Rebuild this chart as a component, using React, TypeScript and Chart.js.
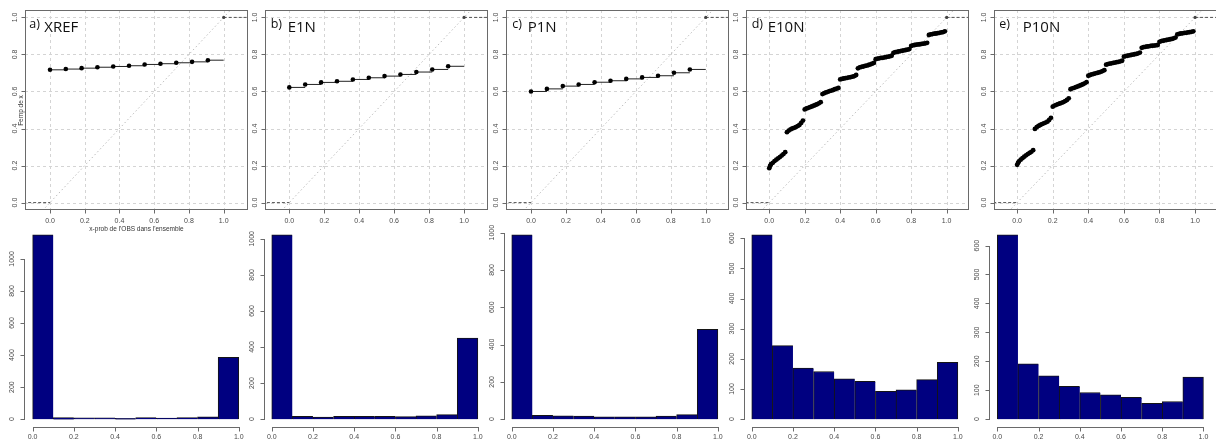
import React, { useEffect, useRef } from 'react';
import { Chart, registerables } from 'chart.js';
Chart.register(...registerables);

// ---------------- data ----------------
const panelLetters = ['a)', 'b)', 'c)', 'd)', 'e)'];
const panelNames = ['XREF', 'E1N', 'P1N', 'E10N', 'P10N'];

// ECDF abscissae (x-prob) for the 1-member panels
const sparseX = [0, 0.091, 0.182, 0.273, 0.364, 0.455, 0.545, 0.636, 0.727, 0.818, 0.909, 1.0];
const xrefEcdf = [0.717, 0.721, 0.726, 0.731, 0.735, 0.739, 0.746, 0.75, 0.755, 0.76, 0.769, 1.0];
const e1nEcdf = [0.622, 0.638, 0.649, 0.655, 0.665, 0.674, 0.683, 0.692, 0.705, 0.719, 0.736, 1.0];
const p1nEcdf = [0.6, 0.614, 0.629, 0.638, 0.65, 0.658, 0.668, 0.676, 0.685, 0.701, 0.719, 1.0];

// ECDF abscissae for the 10-member panels
const denseX = [
  0, 0.005, 0.01, 0.02, 0.03, 0.04, 0.05, 0.06, 0.07, 0.08, 0.09,
  0.1, 0.11, 0.12, 0.13, 0.14, 0.15, 0.16, 0.17, 0.18, 0.19,
  0.2, 0.21, 0.22, 0.23, 0.24, 0.25, 0.26, 0.27, 0.28, 0.29,
  0.3, 0.31, 0.32, 0.33, 0.34, 0.35, 0.36, 0.37, 0.38, 0.39,
  0.4, 0.41, 0.42, 0.43, 0.44, 0.45, 0.46, 0.47, 0.48, 0.49,
  0.5, 0.51, 0.52, 0.53, 0.54, 0.55, 0.56, 0.57, 0.58, 0.59,
  0.6, 0.61, 0.62, 0.63, 0.64, 0.65, 0.66, 0.67, 0.68, 0.69,
  0.7, 0.71, 0.72, 0.73, 0.74, 0.75, 0.76, 0.77, 0.78, 0.79,
  0.8, 0.81, 0.82, 0.83, 0.84, 0.85, 0.86, 0.87, 0.88, 0.89,
  0.9, 0.91, 0.92, 0.93, 0.94, 0.95, 0.96, 0.97, 0.98, 0.99,
  1.0,
];
const e10nEcdf = [
  0.186, 0.198, 0.207, 0.215, 0.224, 0.232, 0.239, 0.246, 0.254, 0.262, 0.272,
  0.38, 0.389, 0.395, 0.4, 0.404, 0.408, 0.413, 0.419, 0.43, 0.443,
  0.503, 0.508, 0.512, 0.515, 0.519, 0.523, 0.527, 0.531, 0.536, 0.542,
  0.586, 0.591, 0.595, 0.598, 0.602, 0.605, 0.608, 0.612, 0.615, 0.619,
  0.665, 0.668, 0.67, 0.672, 0.674, 0.676, 0.678, 0.68, 0.683, 0.689,
  0.725, 0.73, 0.733, 0.735, 0.738, 0.74, 0.743, 0.746, 0.75, 0.754,
  0.774, 0.777, 0.779, 0.781, 0.782, 0.784, 0.786, 0.788, 0.79, 0.793,
  0.808, 0.812, 0.814, 0.816, 0.818, 0.82, 0.822, 0.824, 0.826, 0.829,
  0.846, 0.849, 0.851, 0.853, 0.854, 0.855, 0.857, 0.858, 0.86, 0.863,
  0.905, 0.908, 0.91, 0.912, 0.913, 0.915, 0.917, 0.919, 0.921, 0.925,
  1.0,
];
const p10nEcdf = [
  0.204, 0.214, 0.222, 0.232, 0.24, 0.248, 0.255, 0.262, 0.268, 0.274, 0.283,
  0.398, 0.407, 0.414, 0.419, 0.424, 0.428, 0.432, 0.437, 0.446, 0.458,
  0.518, 0.524, 0.528, 0.532, 0.535, 0.539, 0.543, 0.548, 0.554, 0.563,
  0.612, 0.617, 0.62, 0.623, 0.627, 0.631, 0.635, 0.639, 0.644, 0.65,
  0.685, 0.689, 0.692, 0.695, 0.698, 0.7, 0.703, 0.706, 0.71, 0.715,
  0.745, 0.748, 0.75, 0.752, 0.754, 0.756, 0.758, 0.76, 0.763, 0.766,
  0.788, 0.791, 0.793, 0.795, 0.797, 0.799, 0.801, 0.803, 0.806, 0.81,
  0.836, 0.839, 0.841, 0.843, 0.844, 0.846, 0.847, 0.848, 0.849, 0.851,
  0.868, 0.872, 0.874, 0.876, 0.878, 0.88, 0.882, 0.884, 0.887, 0.891,
  0.908, 0.911, 0.913, 0.914, 0.916, 0.917, 0.919, 0.92, 0.922, 0.925,
  1.0,
];

// histogram bins and counts
const binEdges = [0, 0.1, 0.2, 0.3, 0.4, 0.5, 0.6, 0.7, 0.8, 0.9, 1.0];
const xrefCounts = [1150, 10, 8, 8, 5, 9, 7, 9, 14, 385];
const e1nCounts = [1022, 15, 12, 15, 15, 15, 14, 18, 25, 450];
const p1nCounts = [988, 20, 18, 17, 12, 13, 12, 17, 24, 482];
const e10nCounts = [611, 244, 169, 158, 134, 125, 92, 97, 131, 188];
const p10nCounts = [637, 191, 150, 113, 92, 84, 75, 55, 61, 145];

// tick values and labels
const probTicks = [0, 0.2, 0.4, 0.6, 0.8, 1.0];
const probTickLabels = ['0.0', '0.2', '0.4', '0.6', '0.8', '1.0'];
const countTicks1000 = [0, 200, 400, 600, 800, 1000];
const countLabels1000 = ['0', '200', '400', '600', '800', '1000'];
const countTicks600 = [0, 100, 200, 300, 400, 500, 600];
const countLabels600 = ['0', '100', '200', '300', '400', '500', '600'];

const yTitleText = 'Femp de x';
const xTitleText = "x-prob de l'OBS dans l'ensemble";

const ecdfXs = [sparseX, sparseX, sparseX, denseX, denseX];
const ecdfYs = [xrefEcdf, e1nEcdf, p1nEcdf, e10nEcdf, p10nEcdf];
const histCounts = [xrefCounts, e1nCounts, p1nCounts, e10nCounts, p10nCounts];
const histYTicks = [countTicks1000, countTicks1000, countTicks1000, countTicks600, countTicks600];
const histYLabels = [countLabels1000, countLabels1000, countLabels1000, countLabels600, countLabels600];

// ---------------- layout ----------------
const topBoxes = [
  { left: 25, right: 248, xmin: -0.144, xmax: 1.14, letterOff: 4.3, nameOff: 19.3 },
  { left: 265, right: 488, xmin: -0.139, xmax: 1.137, letterOff: 5.7, nameOff: 22.7 },
  { left: 506, right: 729, xmin: -0.143, xmax: 1.133, letterOff: 6.3, nameOff: 21.7 },
  { left: 746, right: 969, xmin: -0.131, xmax: 1.126, letterOff: 5.7, nameOff: 21.7 },
  { left: 994, right: 1220, xmin: -0.13, xmax: 1.14, letterOff: 5.3, nameOff: 28.7 },
];
const TOP_Y0 = 10, TOP_Y1 = 210, TOP_H = 236;
const histLefts = [24.4, 263.5, 503.5, 743.5, 989.1];
const HIST_W = 222.6, HIST_TOP = 227.5, HIST_BOTTOM = 426.5, HIST_CANVAS_TOP = 215, HIST_CANVAS_H = 228;

const TICK_FONT = '7px "Liberation Sans", Arial, sans-serif';

// ---------------- R-style axes plugin ----------------
const rAxes = {
  id: 'rAxes',
  beforeDatasetsDraw(chart: any, _args: any, o: any) {
    if (!o || !o.grid) return;
    const { ctx, chartArea: a } = chart;
    const xs = chart.scales.x, ys = chart.scales.y;
    ctx.save();
    ctx.strokeStyle = '#d4d4d4';
    ctx.lineWidth = 1;
    ctx.setLineDash([3, 3]);
    ctx.beginPath();
    o.xTicks.forEach((v: number) => {
      const p = Math.round(xs.getPixelForValue(v)) + 0.5;
      ctx.moveTo(p, a.top); ctx.lineTo(p, a.bottom);
    });
    o.yTicks.forEach((v: number) => {
      const p = Math.round(ys.getPixelForValue(v)) + 0.5;
      ctx.moveTo(a.left, p); ctx.lineTo(a.right, p);
    });
    ctx.stroke();
    ctx.restore();
  },
  afterDraw(chart: any, _args: any, o: any) {
    if (!o) return;
    const { ctx, chartArea: a } = chart;
    const xs = chart.scales.x, ys = chart.scales.y;
    ctx.save();
    ctx.setLineDash([]);
    ctx.strokeStyle = '#6a6a6a';
    ctx.lineWidth = 1;
    const L = Math.round(a.left), R = Math.round(a.right), T = Math.round(a.top), B = Math.round(a.bottom);
    let axisY: number, axisX: number;
    if (o.mode === 'ecdf') {
      ctx.strokeRect(L + 0.5, T + 0.5, R - L - 1, B - T - 1);
      axisY = B - 0.5;
      axisX = L + 0.5;
    } else {
      axisY = B + 0.5;
      axisX = L + 0.5;
      ctx.beginPath();
      ctx.moveTo(Math.round(xs.getPixelForValue(o.xTicks[0])), axisY);
      ctx.lineTo(Math.round(xs.getPixelForValue(o.xTicks[o.xTicks.length - 1])) + 1, axisY);
      ctx.moveTo(axisX, Math.round(ys.getPixelForValue(o.yTicks[0])) + 1);
      ctx.lineTo(axisX, Math.round(ys.getPixelForValue(o.yTicks[o.yTicks.length - 1])));
      ctx.stroke();
    }
    // ticks
    ctx.beginPath();
    o.xTicks.forEach((v: number) => {
      const p = Math.round(xs.getPixelForValue(v)) + 0.5;
      ctx.moveTo(p, axisY); ctx.lineTo(p, axisY + 4);
    });
    o.yTicks.forEach((v: number) => {
      const p = Math.round(ys.getPixelForValue(v)) + 0.5;
      ctx.moveTo(axisX, p); ctx.lineTo(axisX - 4, p);
    });
    ctx.stroke();
    // labels
    ctx.fillStyle = '#4a4a4a';
    ctx.font = TICK_FONT;
    ctx.textAlign = 'center';
    ctx.textBaseline = 'middle';
    o.xTicks.forEach((v: number, k: number) => {
      ctx.fillText(o.xLabels[k], xs.getPixelForValue(v), axisY + o.xGap);
    });
    o.yTicks.forEach((v: number, k: number) => {
      ctx.save();
      ctx.translate(axisX - o.yGap, ys.getPixelForValue(v));
      ctx.rotate(-Math.PI / 2);
      ctx.fillText(o.yLabels[k], 0, 0);
      ctx.restore();
    });
    // free texts
    (o.texts || []).forEach((t: any) => {
      ctx.save();
      ctx.font = t.font;
      ctx.fillStyle = t.color || '#111';
      ctx.textAlign = t.align || 'left';
      ctx.textBaseline = t.baseline || 'alphabetic';
      ctx.translate(t.x, t.y);
      if (t.rotate) ctx.rotate(t.rotate);
      ctx.fillText(t.text, 0, 0);
      ctx.restore();
    });
    ctx.restore();
  },
};

// ---------------- configs ----------------
function ecdfPanel(i: number) {
  const b = topBoxes[i];
  const canvasLeft = Math.floor(b.left - 25);
  const width = Math.ceil(b.right + 6) - canvasLeft;
  const padL = b.left - canvasLeft;
  const padR = width - (b.right - canvasLeft);
  const xsArr = ecdfXs[i];
  const ysArr = ecdfYs[i];
  const n = xsArr.length;
  const dense = i >= 3;

  const pts = xsArr.slice(0, n - 1).map((x, k) => ({ x, y: ysArr[k] }));
  const steps: any[] = [];
  for (let k = 0; k < n - 1; k++) {
    steps.push({ x: xsArr[k], y: ysArr[k] });
    steps.push({ x: xsArr[k + 1], y: ysArr[k] });
    steps.push({ x: xsArr[k + 1], y: null });
  }
  const last = { x: xsArr[n - 1], y: ysArr[n - 1] };

  const texts: any[] = [
    { text: panelLetters[i], x: b.left + b.letterOff - canvasLeft, y: 27.5, font: '12.5px "Open Sans", sans-serif', color: '#111' },
    { text: panelNames[i], x: b.left + b.nameOff - canvasLeft, y: 31.7, font: '15px "Open Sans", sans-serif', color: '#111' },
  ];
  if (i === 0) {
    texts.push({ text: yTitleText, x: 21, y: 110.5, font: '6.5px "Liberation Sans", Arial, sans-serif', color: '#333', align: 'center', baseline: 'middle', rotate: -Math.PI / 2 });
    texts.push({ text: xTitleText, x: (b.left + b.right) / 2 - canvasLeft, y: 229.5, font: '6.5px "Liberation Sans", Arial, sans-serif', color: '#333', align: 'center', baseline: 'middle' });
  }

  const config: any = {
    type: 'scatter',
    data: {
      datasets: [
        { data: pts, pointRadius: dense ? 2.4 : 2.3, pointBackgroundColor: '#000', pointBorderWidth: 0, showLine: false },
        { data: [last], pointRadius: 1.6, pointBackgroundColor: '#444', pointBorderWidth: 0, showLine: false },
        { data: steps, showLine: true, spanGaps: false, borderColor: '#222', borderWidth: 1, pointRadius: 0 },
        { data: [{ x: -0.5, y: 0 }, { x: 0, y: 0 }], showLine: true, borderColor: '#555', borderWidth: 1, borderDash: [3, 2], pointRadius: 0 },
        { data: [{ x: 1, y: 1 }, { x: 1.5, y: 1 }], showLine: true, borderColor: '#555', borderWidth: 1, borderDash: [3, 2], pointRadius: 0 },
        { data: [{ x: -0.5, y: -0.5 }, { x: 1.5, y: 1.5 }], showLine: true, borderColor: '#bdbdbd', borderWidth: 1, borderDash: [1.5, 2.5], pointRadius: 0 },
      ],
    },
    options: {
      animation: false,
      responsive: false,
      maintainAspectRatio: false,
      events: [],
      elements: { line: { tension: 0 } },
      layout: { padding: { left: padL, right: padR, top: TOP_Y0, bottom: TOP_H - TOP_Y1 } },
      scales: {
        x: { type: 'linear', min: b.xmin, max: b.xmax, display: false },
        y: { type: 'linear', min: -0.04, max: 1.04, display: false },
      },
      plugins: {
        legend: { display: false },
        tooltip: { enabled: false },
        rAxes: {
          mode: 'ecdf', grid: true,
          xTicks: probTicks, xLabels: probTickLabels,
          yTicks: probTicks, yLabels: probTickLabels,
          xGap: 12, yGap: 10.5, texts,
        },
      },
    },
    plugins: [rAxes],
  };
  return { left: canvasLeft, top: 0, width, height: TOP_H, config };
}

function histPanel(i: number) {
  const left = histLefts[i];
  const canvasLeft = Math.floor(left - 26);
  const width = Math.ceil(left + HIST_W + 4) - canvasLeft;
  const padL = left - canvasLeft;
  const padR = width - (left + HIST_W - canvasLeft);
  const counts = histCounts[i];
  const maxC = Math.max(...counts);
  const centers = binEdges.slice(0, -1).map((e, k) => (e + binEdges[k + 1]) / 2);
  const lastIdx = counts.length - 1;

  const config: any = {
    type: 'bar',
    data: {
      datasets: [
        {
          data: centers.map((c, k) => ({ x: c, y: counts[k] })),
          backgroundColor: '#000080',
          borderColor: '#141414',
          borderWidth: (ctx: any) => ({ top: 1, left: 1, bottom: 0, right: ctx.dataIndex === lastIdx ? 1 : 0 }),
          borderSkipped: false,
          barPercentage: 1,
          categoryPercentage: 1,
        },
      ],
    },
    options: {
      animation: false,
      responsive: false,
      maintainAspectRatio: false,
      events: [],
      layout: { padding: { left: padL, right: padR, top: HIST_TOP - HIST_CANVAS_TOP, bottom: HIST_CANVAS_TOP + HIST_CANVAS_H - HIST_BOTTOM } },
      scales: {
        x: { type: 'linear', min: -0.04, max: 1.04, offset: false, display: false },
        y: { type: 'linear', min: -0.04 * maxC, max: 1.04 * maxC, display: false },
      },
      plugins: {
        legend: { display: false },
        tooltip: { enabled: false },
        rAxes: {
          mode: 'hist', grid: false,
          xTicks: probTicks, xLabels: probTickLabels,
          yTicks: histYTicks[i], yLabels: histYLabels[i],
          xGap: 10, yGap: 12.5, texts: [],
        },
      },
    },
    plugins: [rAxes],
  };
  return { left: canvasLeft, top: HIST_CANVAS_TOP, width, height: HIST_CANVAS_H, config };
}

function ChartCanvas(props: { left: number; top: number; width: number; height: number; config: any }) {
  const ref = useRef<HTMLCanvasElement | null>(null);
  useEffect(() => {
    if (!ref.current) return;
    const chart = new Chart(ref.current, props.config);
    return () => chart.destroy();
  }, []);
  return (
    <canvas
      ref={ref}
      width={props.width}
      height={props.height}
      style={{ position: 'absolute', left: props.left, top: props.top, width: props.width, height: props.height }}
    />
  );
}

export default function App() {
  const panels = [0, 1, 2, 3, 4];
  const tops = panels.map(ecdfPanel);
  const hists = panels.map(histPanel);
  return (
    <div style={{ position: 'absolute', left: 0, top: 0, width: 1216, height: 443, overflow: 'hidden', background: '#fff' }}>
      {hists.map((p, k) => (
        <ChartCanvas key={'h' + k} {...p} />
      ))}
      {tops.map((p, k) => (
        <ChartCanvas key={'t' + k} {...p} />
      ))}
    </div>
  );
}
